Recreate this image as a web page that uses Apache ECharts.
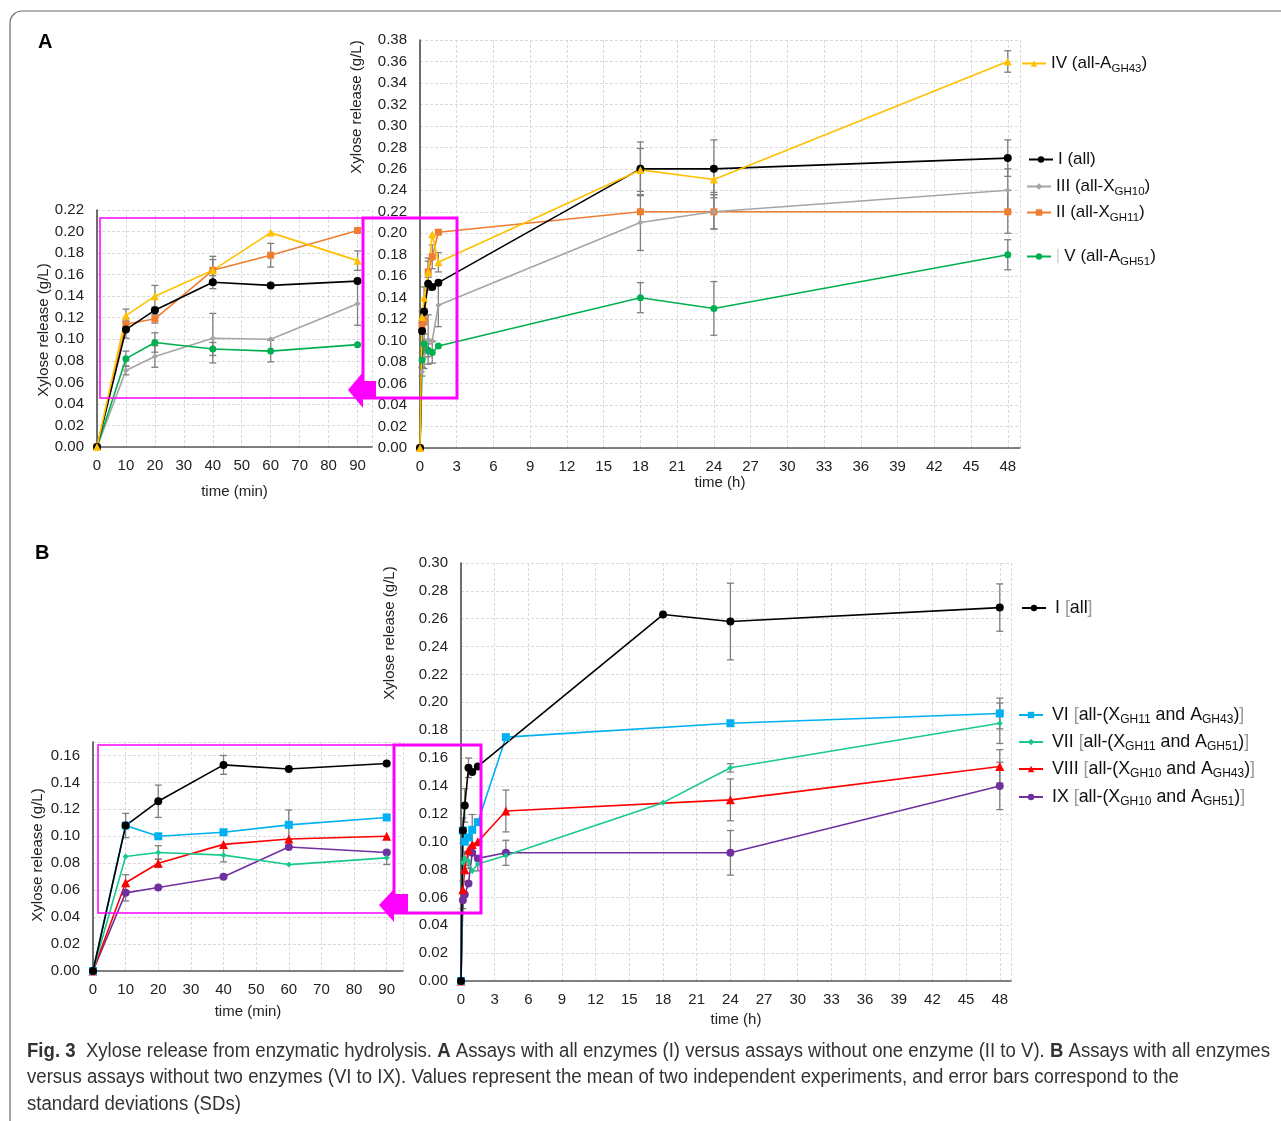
<!DOCTYPE html>
<html>
<head>
<meta charset="utf-8">
<script src="https://cdn.jsdelivr.net/npm/echarts@6/dist/echarts.min.js"></script>
<style>
html, body { margin: 0; padding: 0; background: #fff; }
#chart { width: 1281px; height: 1121px; }
</style>
</head>
<body>
<div id="chart"></div>
<script>
// time points
var minT = [0, 10, 20, 40, 60, 90];
var hrsA = [18, 24, 48];
var hrsB_I = [18, 24, 48];
var hrsB_VI = [4, 24, 48];
var hrsB_VII = [4, 18, 24, 48];
var hrsB_VIII = [4, 24, 48];
var hrsB_IX = [4, 24, 48];

// panel A : values (g/L) and SDs
var aI_min   = [0, 0.109, 0.127, 0.153, 0.150, 0.154];
var aI_hr    = [0.260, 0.260, 0.270];
var aI_sdMin = [0, 0.008, 0, 0.006, 0, 0];
var aI_sdHr  = [0.025, 0.027, 0.017];

var aII_min   = [0, 0.114, 0.119, 0.164, 0.178, 0.201];
var aII_hr    = [0.220, 0.220, 0.220];
var aII_sdMin = [0, 0.005, 0.004, 0.010, 0.011, 0.002];
var aII_sdHr  = [0, 0.016, 0.020];

var aIII_min   = [0, 0.071, 0.084, 0.101, 0.100, 0.133];
var aIII_hr    = [0.210, 0.220, 0.240];
var aIII_sdMin = [0, 0.004, 0.010, 0.023, 0, 0.020];
var aIII_sdHr  = [0.026, 0.016, 0.020];

var aIV_min   = [0, 0.122, 0.140, 0.164, 0.199, 0.173];
var aIV_hr    = [0.259, 0.250, 0.360];
var aIV_sdMin = [0, 0.006, 0.010, 0.013, 0, 0.009];
var aIV_sdHr  = [0.020, 0.012, 0.010];

var aV_min   = [0, 0.082, 0.097, 0.091, 0.089, 0.095];
var aV_hr    = [0.140, 0.130, 0.180];
var aV_sdMin = [0, 0.007, 0.009, 0.006, 0.010, 0];
var aV_sdHr  = [0.014, 0.025, 0.014];

// panel B
var bI_min   = [0, 0.108, 0.126, 0.153, 0.150, 0.154];
var bI_hr    = [0.263, 0.258, 0.268];
var bI_sdMin = [0, 0, 0.012, 0.007, 0, 0];
var bI_sdHr  = [0, 0.0275, 0.017];

var bVI_min   = [0, 0.108, 0.100, 0.103, 0.1085, 0.114];
var bVI_hr    = [0.175, 0.185, 0.192];
var bVI_sdMin = [0, 0.009, 0, 0, 0.011, 0];
var bVI_sdHr  = [0, 0, 0.011];

var bVII_min   = [0, 0.085, 0.088, 0.086, 0.079, 0.084];
var bVII_hr    = [0.090, 0.128, 0.153, 0.185];
var bVII_sdMin = [0, 0, 0.005, 0.005, 0, 0.005];
var bVII_sdHr  = [0, 0, 0.003, 0.0145];

var bVIII_min   = [0, 0.0655, 0.080, 0.094, 0.098, 0.100];
var bVIII_hr    = [0.122, 0.130, 0.154];
var bVIII_sdMin = [0, 0.006, 0.003, 0, 0, 0];
var bVIII_sdHr  = [0.015, 0.015, 0.012];

var bIX_min   = [0, 0.058, 0.062, 0.070, 0.092, 0.088];
var bIX_hr    = [0.092, 0.092, 0.140];
var bIX_sdMin = [0, 0.006, 0, 0, 0, 0];
var bIX_sdHr  = [0.009, 0.016, 0.017];

var namesA = ['IV (all-AGH43)', 'I (all)', 'III (all-XGH10)', 'II (all-XGH11)', 'V (all-AGH51)'];
var namesB = ['I [all]', 'VI [all-(XGH11 and AGH43)]', 'VII [all-(XGH11 and AGH51)]',
              'VIII [all-(XGH10 and AGH43)]', 'IX [all-(XGH10 and AGH51)]'];

var FONT = 'Liberation Sans, Arial, sans-serif';
var myChart = echarts.init(document.getElementById('chart'));

function xAxis(grid, max, interval, name, gap) {
    return {
        type: 'value', gridIndex: grid, min: 0, max: max, interval: interval,
        name: name, nameLocation: 'middle', nameGap: gap,
        nameTextStyle: {fontFamily: FONT, fontSize: 15, color: '#222'},
        axisLine: {show: true, onZero: false, lineStyle: {color: '#595959', width: 1.5}},
        axisTick: {show: false},
        axisLabel: {fontFamily: FONT, fontSize: 15, color: '#222', margin: 11, showMaxLabel: false},
        splitLine: {show: true, lineStyle: {color: '#dadada', type: [3, 2]}}
    };
}
function yAxis(grid, max, showMax) {
    return {
        type: 'value', gridIndex: grid, min: 0, max: max, interval: 0.02,
        axisLine: {show: true, onZero: false, lineStyle: {color: '#404040', width: 1.5}},
        axisTick: {show: false},
        axisLabel: {fontFamily: FONT, fontSize: 15, color: '#222', margin: 13, showMaxLabel: showMax,
            formatter: function(v){ return v.toFixed(2); }},
        splitLine: {show: true, lineStyle: {color: '#dadada', type: [3, 2]}}
    };
}

function errData(xs, ys, sds) {
    var out = [];
    xs.forEach(function(x, i){
        if (sds[i]) out.push([x, ys[i] - sds[i], ys[i] + sds[i]]);
    });
    return out;
}
function renderErr(params, api) {
    var x = api.value(0);
    var p1 = api.coord([x, api.value(2)]);
    var p2 = api.coord([x, api.value(1)]);
    var w = 3.5;
    var st = {stroke: '#7f7f7f', lineWidth: 1.3};
    return {type: 'group', children: [
        {type: 'line', shape: {x1: p1[0], y1: p1[1], x2: p2[0], y2: p2[1]}, style: st},
        {type: 'line', shape: {x1: p1[0] - w, y1: p1[1], x2: p1[0] + w, y2: p1[1]}, style: st},
        {type: 'line', shape: {x1: p2[0] - w, y1: p2[1], x2: p2[0] + w, y2: p2[1]}, style: st}
    ]};
}

var series = [];
function addGroup(gIn, gMain, name, yMin, hrs, yHr, sdMin, sdHr, st) {
    var base = {
        type: 'line', name: name, symbol: st.symbol, symbolSize: st.size,
        itemStyle: {color: st.color}, lineStyle: {color: st.color, width: 1.6},
        z: 3, animation: false
    };
    var hMin = minT.map(function(m){ return m / 60; });
    series.push(Object.assign({}, base, {xAxisIndex: gIn, yAxisIndex: gIn,
        data: minT.map(function(m, i){ return [m, yMin[i]]; })}));
    series.push(Object.assign({}, base, {xAxisIndex: gMain, yAxisIndex: gMain,
        data: hMin.map(function(h, i){ return [h, yMin[i]]; })
            .concat(hrs.map(function(h, i){ return [h, yHr[i]]; }))}));
    series.push({type: 'custom', name: name + ' err', xAxisIndex: gIn, yAxisIndex: gIn, z: 2,
        renderItem: renderErr, encode: {x: 0, y: [1, 2]}, data: errData(minT, yMin, sdMin), animation: false});
    series.push({type: 'custom', name: name + ' err2', xAxisIndex: gMain, yAxisIndex: gMain, z: 2,
        renderItem: renderErr, encode: {x: 0, y: [1, 2]},
        data: errData(hMin.concat(hrs), yMin.concat(yHr), sdMin.concat(sdHr)), animation: false});
}

addGroup(0, 1, namesA[3], aII_min, hrsA, aII_hr, aII_sdMin, aII_sdHr, {color: '#ED7D31', symbol: 'rect', size: 7});
addGroup(0, 1, namesA[2], aIII_min, hrsA, aIII_hr, aIII_sdMin, aIII_sdHr, {color: '#A5A5A5', symbol: 'diamond', size: 6});
addGroup(0, 1, namesA[4], aV_min, hrsA, aV_hr, aV_sdMin, aV_sdHr, {color: '#00B050', symbol: 'circle', size: 7});
addGroup(0, 1, namesA[1], aI_min, hrsA, aI_hr, aI_sdMin, aI_sdHr, {color: '#000000', symbol: 'circle', size: 8});
addGroup(0, 1, namesA[0], aIV_min, hrsA, aIV_hr, aIV_sdMin, aIV_sdHr, {color: '#FFC000', symbol: 'triangle', size: 8});

addGroup(2, 3, namesB[4], bIX_min, hrsB_IX, bIX_hr, bIX_sdMin, bIX_sdHr, {color: '#7030A0', symbol: 'circle', size: 8});
addGroup(2, 3, namesB[3], bVIII_min, hrsB_VIII, bVIII_hr, bVIII_sdMin, bVIII_sdHr, {color: '#FF0000', symbol: 'triangle', size: 9});
addGroup(2, 3, namesB[2], bVII_min, hrsB_VII, bVII_hr, bVII_sdMin, bVII_sdHr, {color: '#17C98F', symbol: 'diamond', size: 6});
addGroup(2, 3, namesB[1], bVI_min, hrsB_VI, bVI_hr, bVI_sdMin, bVI_sdHr, {color: '#00B0F0', symbol: 'rect', size: 8});
addGroup(2, 3, namesB[0], bI_min, hrsB_I, bI_hr, bI_sdMin, bI_sdHr, {color: '#000000', symbol: 'circle', size: 8});

function richFor(size, sub) {
    return {
        n: {fontFamily: FONT, fontSize: size, color: '#111', lineHeight: 22, verticalAlign: 'middle'},
        s: {fontFamily: FONT, fontSize: sub, color: '#111', lineHeight: 11, verticalAlign: 'bottom'},
        g: {fontFamily: FONT, fontSize: size, color: '#9a9a9a', lineHeight: 22, verticalAlign: 'middle'},
        bar: {fontFamily: FONT, fontSize: 14, color: '#c8c8c8', lineHeight: 22, verticalAlign: 'middle'},
        sp: {fontSize: 4, width: 4, lineHeight: 22}
    };
}
var richA = richFor(17, 11.5);
var richB = richFor(17.8, 12);

var legendLabels = {};
legendLabels[namesA[0]] = '{n|IV (all-A}{s|GH43}{n|)}';
legendLabels[namesA[1]] = '{n|I (all)}';
legendLabels[namesA[2]] = '{n|III (all-X}{s|GH10}{n|)}';
legendLabels[namesA[3]] = '{n|II (all-X}{s|GH11}{n|)}';
legendLabels[namesA[4]] = '{bar||}{n| V (all-A}{s|GH51}{n|)}';
legendLabels[namesB[0]] = '{sp| }{n|I }{g|[}{n|all}{g|]}';
legendLabels[namesB[1]] = '{sp| }{n|VI }{g|[}{n|all-(X}{s|GH11}{n| and A}{s|GH43}{n|)}{g|]}';
legendLabels[namesB[2]] = '{sp| }{n|VII }{g|[}{n|all-(X}{s|GH11}{n| and A}{s|GH51}{n|)}{g|]}';
legendLabels[namesB[3]] = '{sp| }{n|VIII }{g|[}{n|all-(X}{s|GH10}{n| and A}{s|GH43}{n|)}{g|]}';
legendLabels[namesB[4]] = '{sp| }{n|IX }{g|[}{n|all-(X}{s|GH10}{n| and A}{s|GH51}{n|)}{g|]}';

function legendAt(name, left, cy, rich) {
    return {
        data: [name], left: left, top: cy - 8, padding: 0, itemWidth: 24, itemHeight: 8,
        selectedMode: false, formatter: function(n){ return legendLabels[n]; },
        textStyle: {rich: rich}
    };
}

var PINK = '#FF00FF';
function yName(x, y) {
    return {type: 'text', x: x, y: y, rotation: Math.PI / 2,
        style: {text: 'Xylose release (g/L)', fontFamily: FONT, fontSize: 15, fill: '#222',
                align: 'center', verticalAlign: 'middle'}};
}

// caption: regular sans, squeezed horizontally to the condensed width of the original
var CAP_SIZE = 20;
var capLines = [
    [['b', 'Fig. 3'], ['t', '  Xylose release from enzymatic hydrolysis. '], ['b', 'A'],
     ['t', ' Assays with all enzymes (I) versus assays without one enzyme (II to V). '], ['b', 'B'],
     ['t', ' Assays with all enzymes']],
    [['t', 'versus assays without two enzymes (VI to IX). Values represent the mean of two independent experiments, and error bars correspond to the']],
    [['t', 'standard deviations (SDs)']]
];
var ctx = document.createElement('canvas').getContext('2d');
function lineWidth(parts) {
    var w = 0;
    parts.forEach(function(p){
        ctx.font = (p[0] === 'b' ? 'bold ' : '') + CAP_SIZE + 'px Liberation Sans';
        w += ctx.measureText(p[1]).width;
    });
    return w;
}
var capScale = 1243 / lineWidth(capLines[0]);
var capRich = {
    b: {fontFamily: FONT, fontSize: CAP_SIZE, fontWeight: 'bold', color: '#222'},
    t: {fontFamily: FONT, fontSize: CAP_SIZE, color: '#333'}
};
function capLine(y, parts) {
    var txt = parts.map(function(p){ return '{' + p[0] + '|' + p[1] + '}'; }).join('');
    return {type: 'text', x: 27, y: y, scaleX: capScale, scaleY: 1,
        style: {text: txt, rich: capRich, verticalAlign: 'middle', fontFamily: FONT, fontSize: CAP_SIZE, fill: '#333'}};
}

var option = {
    animation: false,
    backgroundColor: '#fff',
    grid: [
        {left: 97, top: 210, width: 275, height: 237},
        {left: 420, top: 40, width: 600, height: 408},
        {left: 93, top: 742, width: 310, height: 229},
        {left: 461, top: 563, width: 550, height: 418}
    ],
    xAxis: [
        xAxis(0, 95, 10, 'time (min)', 37),
        xAxis(1, 49, 3, 'time (h)', 25),
        xAxis(2, 95, 10, 'time (min)', 33),
        xAxis(3, 49, 3, 'time (h)', 31)
    ],
    yAxis: [
        yAxis(0, 0.22, true),
        yAxis(1, 0.38, true),
        yAxis(2, 0.17, false),
        yAxis(3, 0.30, true)
    ],
    legend: [
        legendAt(namesA[0], 1021, 63, richA),
        legendAt(namesA[1], 1028, 159, richA),
        legendAt(namesA[2], 1026, 186, richA),
        legendAt(namesA[3], 1026, 212, richA),
        legendAt(namesA[4], 1026, 256, richA),
        legendAt(namesB[0], 1021, 607, richB),
        legendAt(namesB[1], 1018, 714, richB),
        legendAt(namesB[2], 1018, 741, richB),
        legendAt(namesB[3], 1018, 768, richB),
        legendAt(namesB[4], 1018, 796, richB)
    ],
    graphic: [
        {type: 'rect', shape: {x: 10, y: 11, width: 1300, height: 1140, r: 12},
         style: {fill: 'none', stroke: '#6b6b6b', lineWidth: 1.2}, silent: true},
        {type: 'text', x: 38, y: 42, style: {text: 'A', fontFamily: FONT, fontSize: 20, fontWeight: 'bold', fill: '#000', verticalAlign: 'middle'}},
        {type: 'text', x: 35, y: 553, style: {text: 'B', fontFamily: FONT, fontSize: 20, fontWeight: 'bold', fill: '#000', verticalAlign: 'middle'}},
        yName(44, 330), yName(357, 107), yName(38, 855), yName(390, 633),
        // zoom boxes and arrows
        {type: 'rect', shape: {x: 100, y: 218, width: 263, height: 180}, style: {fill: 'none', stroke: PINK, lineWidth: 1.5}, z: 100},
        {type: 'rect', shape: {x: 363, y: 218, width: 94, height: 180}, style: {fill: 'none', stroke: PINK, lineWidth: 3}, z: 100},
        {type: 'polygon', shape: {points: [[348, 390], [363, 372], [363, 381], [376, 381], [376, 398], [363, 398], [363, 408]]},
         style: {fill: PINK}, z: 100},
        {type: 'rect', shape: {x: 98, y: 745, width: 296, height: 168}, style: {fill: 'none', stroke: PINK, lineWidth: 1.5}, z: 100},
        {type: 'rect', shape: {x: 394, y: 745, width: 87, height: 168}, style: {fill: 'none', stroke: PINK, lineWidth: 3}, z: 100},
        {type: 'polygon', shape: {points: [[379, 905], [394, 889], [394, 894], [408, 894], [408, 913], [394, 913], [394, 922]]},
         style: {fill: PINK}, z: 100},
        // caption
        capLine(1051, capLines[0]),
        capLine(1077, capLines[1]),
        capLine(1104, capLines[2])
    ],
    series: series
};
myChart.setOption(option);
</script>
</body>
</html>
